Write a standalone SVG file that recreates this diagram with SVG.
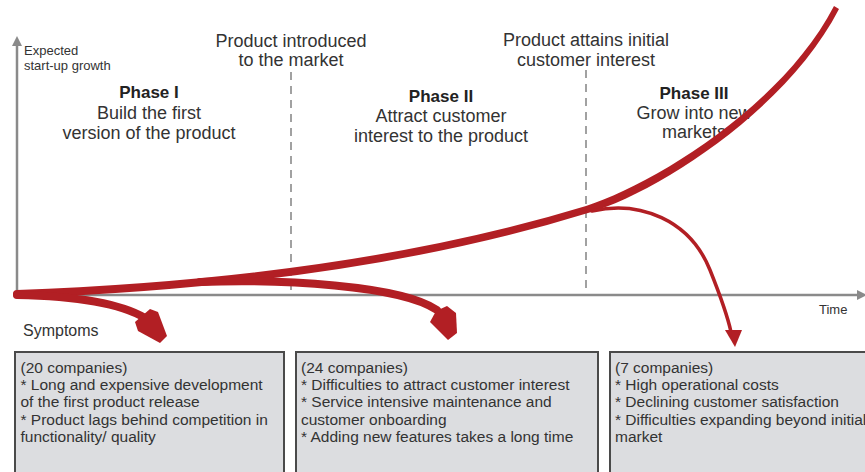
<svg xmlns="http://www.w3.org/2000/svg" width="865" height="472" viewBox="0 0 865 472">
<style>
.t{font-family:"Liberation Sans",Arial,sans-serif;fill:#333;}
.lbl{font-size:18px;text-anchor:middle;}
.ph{font-size:17px;font-weight:bold;text-anchor:middle;fill:#222;}
.sm{font-size:13px;}
.bx{font-size:15.5px;}
.box{fill:#dcdde0;stroke:#4a4a4a;stroke-width:2;}
.axis{stroke:#8a8a8a;stroke-width:2.5;fill:none;}
.dash{stroke:#8a8a8a;stroke-width:1.6;stroke-dasharray:8 6;fill:none;}
.red{fill:#b21f24;}
.rs{stroke:#b21f24;fill:none;stroke-linecap:round;}
</style>
<rect width="865" height="472" fill="#fff"/>
<g id="axes">
<line class="axis" x1="17" y1="296" x2="17" y2="44"/>
<polygon points="17,36 12,46 22,46" fill="#8a8a8a"/>
<line class="axis" x1="16" y1="295" x2="858" y2="295"/>
<polygon points="867,295 857,290 857,300" fill="#8a8a8a"/>
<text class="t sm" x="24" y="55">Expected</text>
<text class="t sm" x="24" y="70">start-up growth</text>
<text class="t sm" x="819" y="314">Time</text>
</g>
<g id="milestone1">
<line class="dash" x1="291" y1="72" x2="291" y2="295"/>
<text class="t lbl" x="291" y="47">Product introduced</text>
<text class="t lbl" x="291" y="66">to the market</text>
</g>
<g id="milestone2">
<line class="dash" x1="586" y1="70" x2="586" y2="295"/>
<text class="t lbl" x="586" y="46">Product attains initial</text>
<text class="t lbl" x="586" y="66">customer interest</text>
</g>
<g id="phase1">
<text class="t ph" x="149" y="98">Phase I</text>
<text class="t lbl" x="149" y="119">Build the first</text>
<text class="t lbl" x="149" y="139">version of the product</text>
</g>
<g id="phase2">
<text class="t ph" x="441" y="102">Phase II</text>
<text class="t lbl" x="441" y="122">Attract customer</text>
<text class="t lbl" x="441" y="142">interest to the product</text>
</g>
<g id="phase3">
<text class="t ph" x="694" y="99">Phase III</text>
<text class="t lbl" x="694" y="119">Grow into new</text>
<text class="t lbl" x="694" y="138">markets</text>
</g>
<g id="symptoms">
<text class="t" x="23" y="336" font-size="16">Symptoms</text>
</g>
<g id="box1">
<rect class="box" x="15" y="352" width="269" height="130"/>
<text class="t bx" x="20.5" y="373">(20 companies)</text>
<text class="t bx" x="20.5" y="390">* Long and expensive development</text>
<text class="t bx" x="20.5" y="407">of the first product release</text>
<text class="t bx" x="20.5" y="425">* Product lags behind competition in</text>
<text class="t bx" x="20.5" y="442">functionality/ quality</text>
</g>
<g id="box2">
<rect class="box" x="296" y="352" width="302" height="130"/>
<text class="t bx" x="301" y="373">(24 companies)</text>
<text class="t bx" x="301" y="390">* Difficulties to attract customer interest</text>
<text class="t bx" x="301" y="407">* Service intensive maintenance and</text>
<text class="t bx" x="301" y="425">customer onboarding</text>
<text class="t bx" x="301" y="442">* Adding new features takes a long time</text>
</g>
<g id="box3">
<rect class="box" x="610" y="352" width="270" height="130"/>
<text class="t bx" x="615" y="373">(7 companies)</text>
<text class="t bx" x="615" y="390">* High operational costs</text>
<text class="t bx" x="615" y="407">* Declining customer satisfaction</text>
<text class="t bx" x="615" y="425">* Difficulties expanding beyond initial</text>
<text class="t bx" x="615" y="442">market</text>
</g>
<g id="connectors">
<path class="red" d="M17,290 Q350,278 586,206 C650,186 782,107 834,6 L839,9 C786,112 654,194 588,213 Q352,286 17,298 Z"/>
<circle class="red" cx="17" cy="294" r="4"/>
<path class="rs" stroke-width="8" d="M17,295 C70,296 118,302 145,318"/>
<polygon class="red" points="135,322 150,309 158,312 167,336 160,343 138,331"/>
<path class="rs" stroke-width="8" d="M200,282 C280,279 400,285 437,310"/>
<polygon class="red" points="430,322 436,311 447,306 456,313 457,333 448,340"/>
<path class="rs" stroke-width="3.5" d="M592,211 C640,200 690,220 710,270 C722,300 728,318 731,332"/>
<polygon class="red" points="725,330 742,330 735,347"/>
</g>
</svg>
